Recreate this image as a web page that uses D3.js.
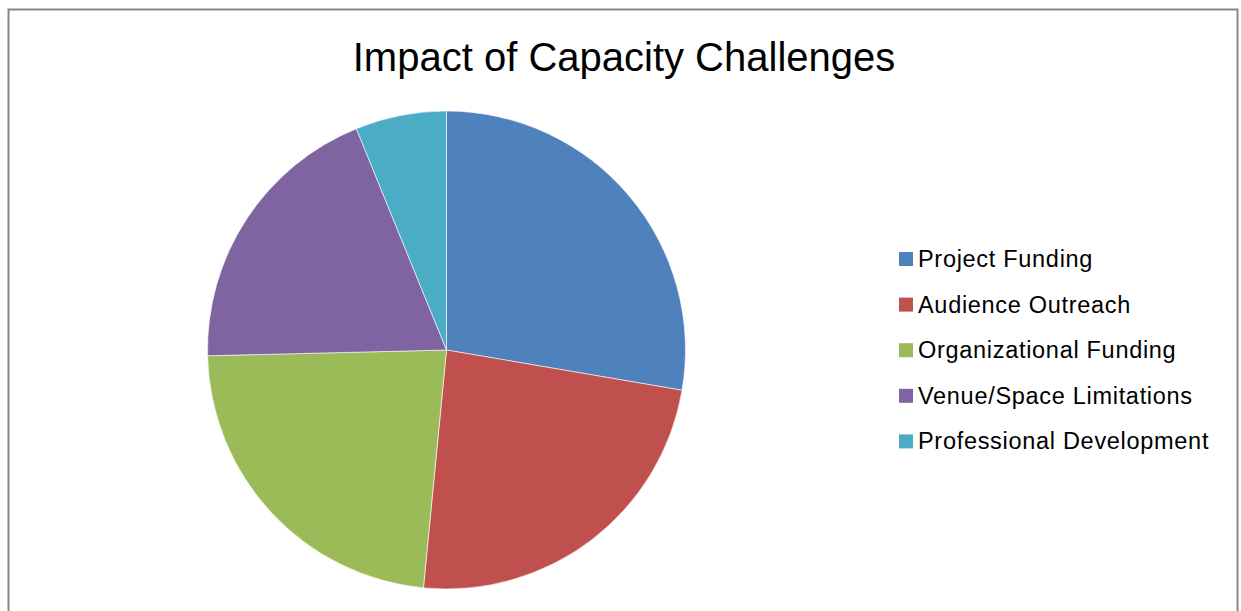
<!DOCTYPE html>
<html>
<head>
<meta charset="utf-8">
<script src="https://cdn.jsdelivr.net/npm/d3@7"></script>
<style>
  body { margin: 0; background: #fff; }
  svg { display: block; }
</style>
</head>
<body>
<script>
// Chart data
var categories = ["Project Funding", "Audience Outreach", "Organizational Funding", "Venue/Space Limitations", "Professional Development"];
var values = [36, 31, 30, 25, 8];
var colors = ["#4F81BD", "#C0504D", "#9BBB59", "#8064A2", "#4BACC6"];
var title = "Impact of Capacity Challenges";

var w = 1241, h = 611;
var cx = 446.5, cy = 350, r = 239;

var svg = d3.select("body").append("svg")
    .attr("width", w)
    .attr("height", h);

// outer chart frame (bottom edge is off the picture)
svg.append("rect")
    .attr("x", 8.5).attr("y", 9.5)
    .attr("width", 1229).attr("height", 640)
    .attr("fill", "#fff")
    .attr("stroke", "#878787")
    .attr("stroke-width", 2);

// title
svg.append("text")
    .attr("x", 624).attr("y", 71)
    .attr("text-anchor", "middle")
    .attr("font-family", "Liberation Sans, Arial, sans-serif")
    .attr("font-size", 40)
    .attr("fill", "#000")
    .text(title);

var pie = d3.pie().sort(null).value(function(d) { return d; });
var arc = d3.arc().innerRadius(0).outerRadius(r);

var color = d3.scaleOrdinal().domain(categories).range(colors);

svg.append("g")
    .attr("transform", "translate(" + cx + "," + cy + ")")
    .selectAll("path")
    .data(pie(values))
    .enter()
    .append("path")
    .attr("d", arc)
    .attr("fill", function(d, i) { return color(categories[i]); })
    .attr("stroke", "#fff")
    .attr("stroke-opacity", 0.6)
    .attr("stroke-width", 1);

// legend
var legend = svg.append("g")
    .selectAll("g")
    .data(categories)
    .enter()
    .append("g")
    .attr("transform", function(d, i) { return "translate(899," + (259 + i * 45.6) + ")"; });

legend.append("rect")
    .attr("x", 0).attr("y", -7)
    .attr("width", 14).attr("height", 14)
    .attr("fill", function(d) { return color(d); });

legend.append("text")
    .attr("x", 19).attr("y", 8)
    .attr("font-family", "Liberation Sans, Arial, sans-serif")
    .attr("font-size", 23.5)
    .attr("letter-spacing", 0.7)
    .attr("fill", "#000")
    .text(function(d) { return d; });
</script>
</body>
</html>
